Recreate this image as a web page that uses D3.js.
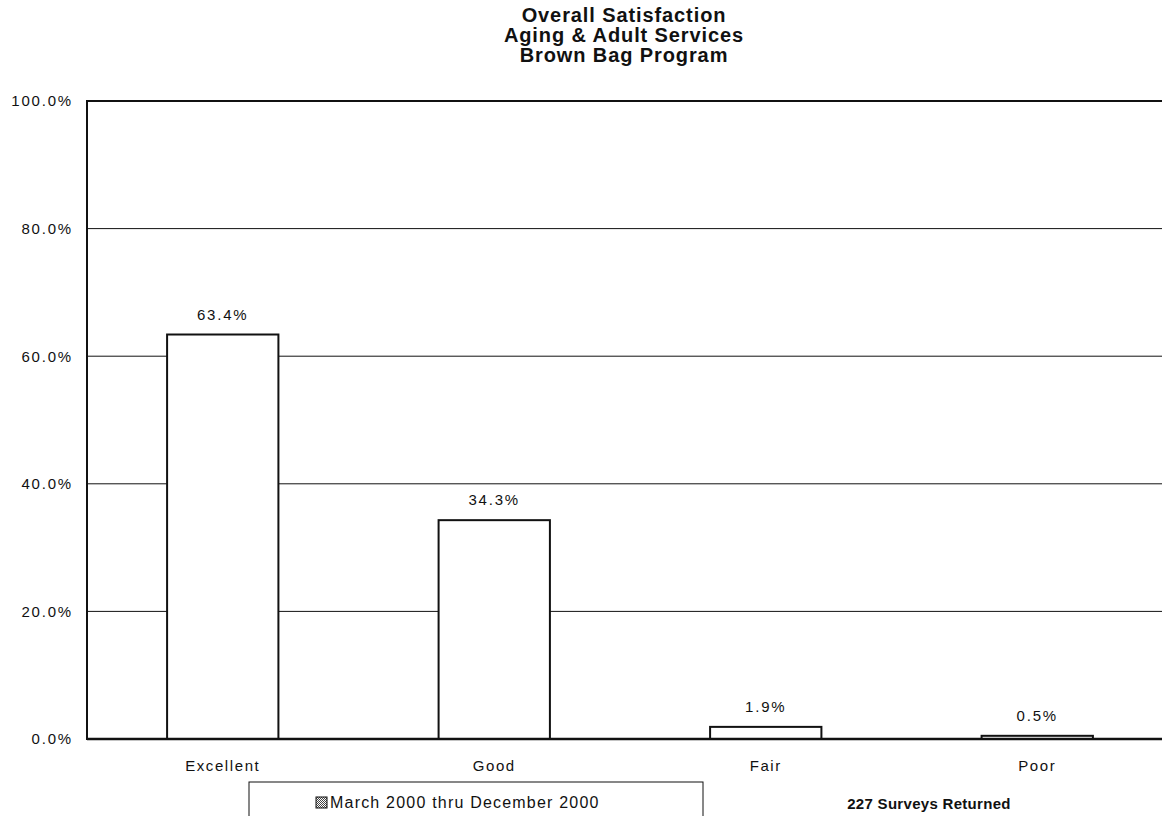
<!DOCTYPE html>
<html>
<head>
<meta charset="utf-8">
<script src="https://cdn.jsdelivr.net/npm/d3@7"></script>
<style>
  html, body { margin: 0; padding: 0; background: #fff; }
  svg { display: block; font-family: Arial, "Liberation Sans", sans-serif; }
</style>
</head>
<body>
<svg id="chart" width="1162" height="816"></svg>
<script>
// Chart content
const titleLines = ["Overall Satisfaction", "Aging & Adult Services", "Brown Bag Program"];
const categories = ["Excellent", "Good", "Fair", "Poor"];
const values = [63.4, 34.3, 1.9, 0.5];
const yTicks = [0, 20, 40, 60, 80, 100];
const seriesName = "March 2000 thru December 2000";
const footnote = "227 Surveys Returned";

const svg = d3.select("#chart");

const plot = { left: 87, right: 1173, top: 101, bottom: 739 };

const x = d3.scaleBand()
  .domain(categories)
  .range([plot.left, plot.right])
  .paddingInner(0.59)
  .paddingOuter(0.295);

const y = d3.scaleLinear()
  .domain([0, 100])
  .range([plot.bottom, plot.top]);

// Checkered fill for the legend swatch
const defs = svg.append("defs");
const pat = defs.append("pattern")
  .attr("id", "checks")
  .attr("width", 2).attr("height", 2)
  .attr("patternUnits", "userSpaceOnUse");
pat.append("rect").attr("width", 2).attr("height", 2).attr("fill", "#fff");
pat.append("rect").attr("width", 1).attr("height", 1).attr("fill", "#444");
pat.append("rect").attr("x", 1).attr("y", 1).attr("width", 1).attr("height", 1).attr("fill", "#444");

// Title, centred over the plot area
svg.append("g")
  .selectAll("text")
  .data(titleLines)
  .join("text")
  .attr("x", 624)
  .attr("y", (d, i) => 22 + i * 20)
  .attr("text-anchor", "middle")
  .attr("font-size", 20)
  .attr("font-weight", "bold")
  .attr("letter-spacing", 0.9)
  .attr("fill", "#111")
  .text(d => d);

// Gridlines
svg.append("g")
  .selectAll("line")
  .data(yTicks.filter(t => t > 0 && t < 100))
  .join("line")
  .attr("x1", plot.left).attr("x2", plot.right)
  .attr("y1", d => y(d)).attr("y2", d => y(d))
  .attr("stroke", "#111")
  .attr("stroke-width", 1);

// Y axis
const yAxis = d3.axisLeft(y)
  .tickValues(yTicks)
  .tickSize(0)
  .tickPadding(14)
  .tickFormat(d => d.toFixed(1) + "%");
const yg = svg.append("g")
  .attr("transform", `translate(${plot.left},0)`)
  .call(yAxis);
yg.select(".domain").remove();
yg.selectAll("text")
  .attr("font-size", 15)
  .attr("letter-spacing", 1.8)
  .attr("font-family", "Arial, 'Liberation Sans', sans-serif")
  .attr("fill", "#111");

// Plot frame
svg.append("rect")
  .attr("x", plot.left).attr("y", plot.top)
  .attr("width", plot.right - plot.left)
  .attr("height", plot.bottom - plot.top)
  .attr("fill", "none")
  .attr("stroke", "#111")
  .attr("stroke-width", 2);

// Bars
svg.append("g")
  .selectAll("rect")
  .data(values)
  .join("rect")
  .attr("x", (d, i) => x(categories[i]))
  .attr("y", d => y(d))
  .attr("width", x.bandwidth())
  .attr("height", d => y(0) - y(d))
  .attr("fill", "#fff")
  .attr("stroke", "#111")
  .attr("stroke-width", 2);

// Value labels
svg.append("g")
  .selectAll("text")
  .data(values)
  .join("text")
  .attr("x", (d, i) => x(categories[i]) + x.bandwidth() / 2)
  .attr("y", d => y(d) - 15)
  .attr("text-anchor", "middle")
  .attr("font-size", 15)
  .attr("letter-spacing", 1.8)
  .attr("fill", "#111")
  .text(d => d.toFixed(1) + "%");

// Baseline
svg.append("line")
  .attr("x1", plot.left).attr("x2", plot.right)
  .attr("y1", y(0)).attr("y2", y(0))
  .attr("stroke", "#111").attr("stroke-width", 2.5);

// X axis labels
const xAxis = d3.axisBottom(x).tickSize(0).tickPadding(21);
const xg = svg.append("g")
  .attr("transform", `translate(0,${plot.bottom})`)
  .call(xAxis);
xg.select(".domain").remove();
xg.selectAll("text")
  .attr("font-size", 15)
  .attr("letter-spacing", 1.6)
  .attr("font-family", "Arial, 'Liberation Sans', sans-serif")
  .attr("fill", "#111");

// Legend
const legend = svg.append("g");
legend.append("rect")
  .attr("x", 249).attr("y", 782)
  .attr("width", 454).attr("height", 60)
  .attr("fill", "none")
  .attr("stroke", "#111")
  .attr("stroke-width", 1);
legend.append("rect")
  .attr("x", 316).attr("y", 797)
  .attr("width", 11).attr("height", 11)
  .attr("fill", "url(#checks)")
  .attr("stroke", "#111")
  .attr("stroke-width", 1);
legend.append("text")
  .attr("x", 330).attr("y", 808)
  .attr("font-size", 16)
  .attr("letter-spacing", 1.2)
  .attr("fill", "#111")
  .text(seriesName);

// Survey count note
svg.append("text")
  .attr("x", 929).attr("y", 809)
  .attr("text-anchor", "middle")
  .attr("font-size", 15)
  .attr("font-weight", "bold")
  .attr("letter-spacing", 0.3)
  .attr("fill", "#111")
  .text(footnote);
</script>
</body>
</html>
